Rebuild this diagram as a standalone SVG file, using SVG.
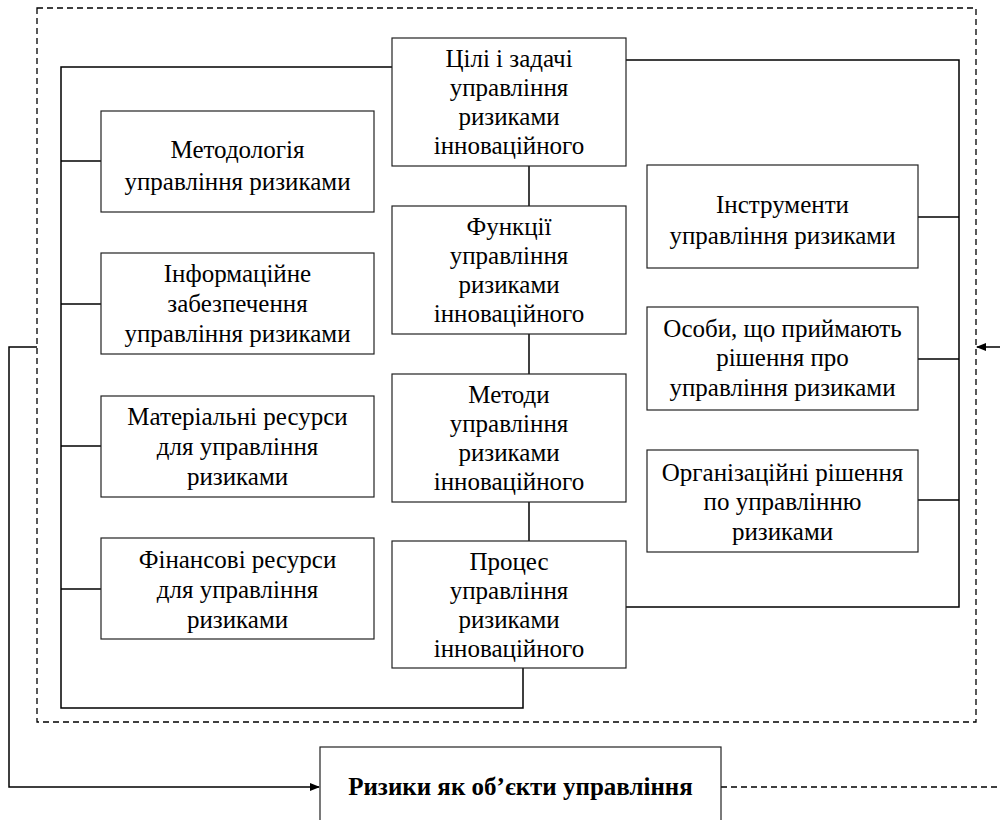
<svg xmlns="http://www.w3.org/2000/svg" width="1000" height="820" viewBox="0 0 1000 820">
<defs>
<style>
.box{fill:#fff;stroke:#222;stroke-width:1.2}
.ln{fill:none;stroke:#000;stroke-width:1.5}
.dash{fill:none;stroke:#000;stroke-width:1.3;stroke-dasharray:6,4}
text{font-family:'Liberation Serif','DejaVu Serif',serif;font-size:25px;fill:#000;text-anchor:middle}
.tb{font-weight:bold}
</style>
<marker id="arr" markerWidth="10" markerHeight="10" refX="9" refY="5" orient="auto" markerUnits="userSpaceOnUse">
<path d="M0,1 L10,5 L0,9 z" fill="#000"/>
</marker>
</defs>
<rect width="1000" height="820" fill="#fff"/>
<rect id="frame" class="dash" x="37" y="8" width="939" height="714"/>
<g id="connectors">
<polyline class="ln" points="392,67 61,67 61,708 523,708 523,668"/>
<line class="ln" x1="61" y1="161" x2="101" y2="161"/>
<line class="ln" x1="61" y1="304" x2="101" y2="304"/>
<line class="ln" x1="61" y1="446" x2="101" y2="446"/>
<line class="ln" x1="61" y1="589" x2="101" y2="589"/>
<polyline class="ln" points="626,60 959,60 959,607 626,607"/>
<line class="ln" x1="918" y1="217" x2="959" y2="217"/>
<line class="ln" x1="918" y1="359" x2="959" y2="359"/>
<line class="ln" x1="918" y1="500" x2="959" y2="500"/>
<line class="ln" x1="529" y1="166" x2="529" y2="206"/>
<line class="ln" x1="529" y1="334" x2="529" y2="374"/>
<line class="ln" x1="529" y1="502" x2="529" y2="541"/>
<polyline class="ln" points="37,347 9,347 9,787 319,787" marker-end="url(#arr)"/>
<line class="ln" x1="1000" y1="347" x2="977" y2="347" marker-end="url(#arr)"/>
<line class="dash" x1="721" y1="787" x2="1000" y2="787"/>
</g>
<g id="n-goals"><rect class="box" x="392" y="38" width="234" height="128"/>
<text x="509" y="67">Цілі і задачі</text><text x="509" y="96">управління</text><text x="509" y="125">ризиками</text><text x="509" y="154">інноваційного</text></g>
<g id="n-functions"><rect class="box" x="392" y="206" width="234" height="128"/>
<text x="509" y="235">Функції</text><text x="509" y="264">управління</text><text x="509" y="293">ризиками</text><text x="509" y="322">інноваційного</text></g>
<g id="n-methods"><rect class="box" x="392" y="374" width="234" height="128"/>
<text x="509" y="403">Методи</text><text x="509" y="432">управління</text><text x="509" y="461">ризиками</text><text x="509" y="490">інноваційного</text></g>
<g id="n-process"><rect class="box" x="392" y="541" width="234" height="127"/>
<text x="509" y="570">Процес</text><text x="509" y="599">управління</text><text x="509" y="628">ризиками</text><text x="509" y="657">інноваційного</text></g>
<g id="n-methodology"><rect class="box" x="101" y="111" width="273" height="101"/>
<text x="237.5" y="158">Методологія</text><text x="237.5" y="190">управління ризиками</text></g>
<g id="n-info"><rect class="box" x="101" y="253" width="273" height="101"/>
<text x="237.5" y="282">Інформаційне</text><text x="237.5" y="312">забезпечення</text><text x="237.5" y="342">управління ризиками</text></g>
<g id="n-material"><rect class="box" x="101" y="396" width="273" height="101"/>
<text x="237.5" y="425">Матеріальні ресурси</text><text x="237.5" y="455">для управління</text><text x="237.5" y="485">ризиками</text></g>
<g id="n-finance"><rect class="box" x="101" y="538" width="273" height="101"/>
<text x="237.5" y="568">Фінансові ресурси</text><text x="237.5" y="598">для управління</text><text x="237.5" y="628">ризиками</text></g>
<g id="n-tools"><rect class="box" x="647" y="165" width="271" height="103"/>
<text x="782.5" y="213">Інструменти</text><text x="782.5" y="244">управління ризиками</text></g>
<g id="n-persons"><rect class="box" x="647" y="307" width="271" height="103"/>
<text x="782.5" y="337">Особи, що приймають</text><text x="782.5" y="366">рішення про</text><text x="782.5" y="396">управління ризиками</text></g>
<g id="n-org"><rect class="box" x="647" y="450" width="271" height="102"/>
<text x="782.5" y="481">Організаційні рішення</text><text x="782.5" y="510">по управлінню</text><text x="782.5" y="540">ризиками</text></g>
<g id="n-risks"><rect class="box" x="320" y="747" width="401" height="100"/>
<text class="tb" x="520.5" y="795">Ризики як об’єкти управління</text></g>
</svg>
